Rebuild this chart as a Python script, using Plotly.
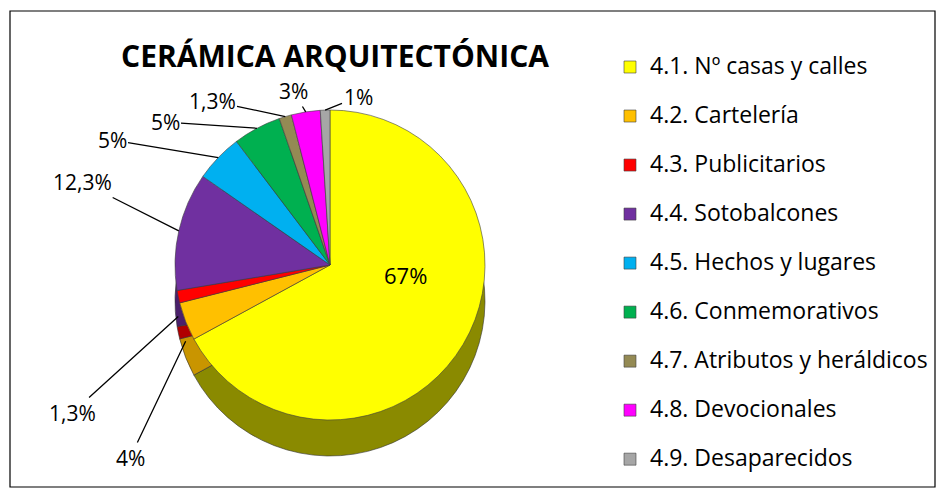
import math
import plotly.graph_objects as go

categories = ["4.1. Nº casas y calles", "4.2. Cartelería", "4.3. Publicitarios",
              "4.4. Sotobalcones", "4.5. Hechos y lugares", "4.6. Conmemorativos",
              "4.7. Atributos y heráldicos", "4.8. Devocionales", "4.9. Desaparecidos"]
values = [67, 4, 1.3, 12.3, 5, 5, 1.3, 3, 1]
value_labels = ["67%", "4%", "1,3%", "12,3%", "5%", "5%", "1,3%", "3%", "1%"]
colors = ["#FFFF00", "#FFC000", "#FF0000", "#7030A0", "#00B0F0",
          "#00B050", "#948A54", "#FF00FF", "#A6A6A6"]
side_colors = ["#8A8A00", "#C99500", "#B00000", "#4A1F6B", "#0080B0",
               "#007A3A", "#6B6440", "#B000B0", "#7A7A7A"]

W, H = 944, 495
FONT = "'Open Sans', sans-serif"

# pie geometry (pixels)
cx, cy, r, depth = 330, 265, 155, 36

# where each value label sits (pixels), and whether its leader starts on the side face
label_pos = [(405, 275), (130, 458), (72, 413), (82, 182), (112, 140),
             (165, 122), (212, 101), (293, 91), (358, 97)]
label_on_side = [False, True, True, False, False, False, False, False, False]


def dom(cx, cy, r):
    return dict(x=[(cx - r) / W, (cx + r) / W],
                y=[1 - (cy + r) / H, 1 - (cy - r) / H])


fig = go.Figure()

# side (depth) of the 3D pie
fig.add_trace(go.Pie(
    labels=categories, values=values, sort=False, direction="clockwise",
    rotation=0, domain=dom(cx, cy + depth, r),
    marker=dict(colors=side_colors, line=dict(color="#333333", width=0.6)),
    textinfo="none", showlegend=False, hoverinfo="skip",
))

# top face (legend entries get a blank second line for Excel-like row spacing)
legend_labels = ["<span style='font-size:23px'>" + c + "</span>"
                 + ("<br> " if i < len(categories) - 1 else "")
                 for i, c in enumerate(categories)]
fig.add_trace(go.Pie(
    labels=legend_labels, values=values, sort=False,
    direction="clockwise", rotation=0, domain=dom(cx, cy, r),
    marker=dict(colors=colors, line=dict(color="#404040", width=0.6)),
    text=value_labels, textinfo="none",
    hovertemplate="%{text}<extra></extra>",
))

# value labels with leader lines, anchored at the middle of each slice's rim
total = sum(values)
annotations = []
cum = 0.0
for i, v in enumerate(values):
    mid = (cum + v / 2) / total * 2 * math.pi
    cum += v
    lx, ly = label_pos[i]
    if i == 0:
        annotations.append(dict(x=lx / W, y=1 - ly / H, xref="paper", yref="paper",
                                text=value_labels[i], showarrow=False,
                                font=dict(family=FONT, size=22, color="#000")))
        continue
    px = cx + r * math.sin(mid)
    py = cy - r * math.cos(mid) + (depth * 0.55 if label_on_side[i] else 0)
    annotations.append(dict(
        x=px / W, y=1 - py / H, xref="paper", yref="paper",
        ax=lx - px, ay=ly - py, axref="pixel", ayref="pixel",
        text=value_labels[i], showarrow=True, arrowhead=0, arrowwidth=1.3,
        arrowcolor="#000000", standoff=0,
        font=dict(family=FONT, size=21, color="#000")))

fig.update_layout(
    width=W, height=H,
    margin=dict(l=0, r=0, t=0, b=0),
    paper_bgcolor="white",
    font=dict(family=FONT, color="#000000"),
    title=dict(text="<b>CERÁMICA ARQUITECTÓNICA</b>", x=335 / W, xanchor="center",
               y=1 - 56 / H, yanchor="middle",
               font=dict(family=FONT, size=30, color="#000000")),
    legend=dict(x=610 / W, xanchor="left", y=1 - 49 / H, yanchor="top",
                font=dict(family=FONT, size=17.7, color="#000000"),
                valign="top", bgcolor="rgba(0,0,0,0)"),
    annotations=annotations,
    shapes=[dict(type="rect", xref="paper", yref="paper",
                 x0=10 / W, x1=935 / W, y0=1 - 487 / H, y1=1 - 11 / H,
                 line=dict(color="#000000", width=1.2), fillcolor="rgba(0,0,0,0)",
                 layer="below")],
)

fig.write_html("out.html", config={"displayModeBar": False},
               post_script="document.body.style.margin='0';")
